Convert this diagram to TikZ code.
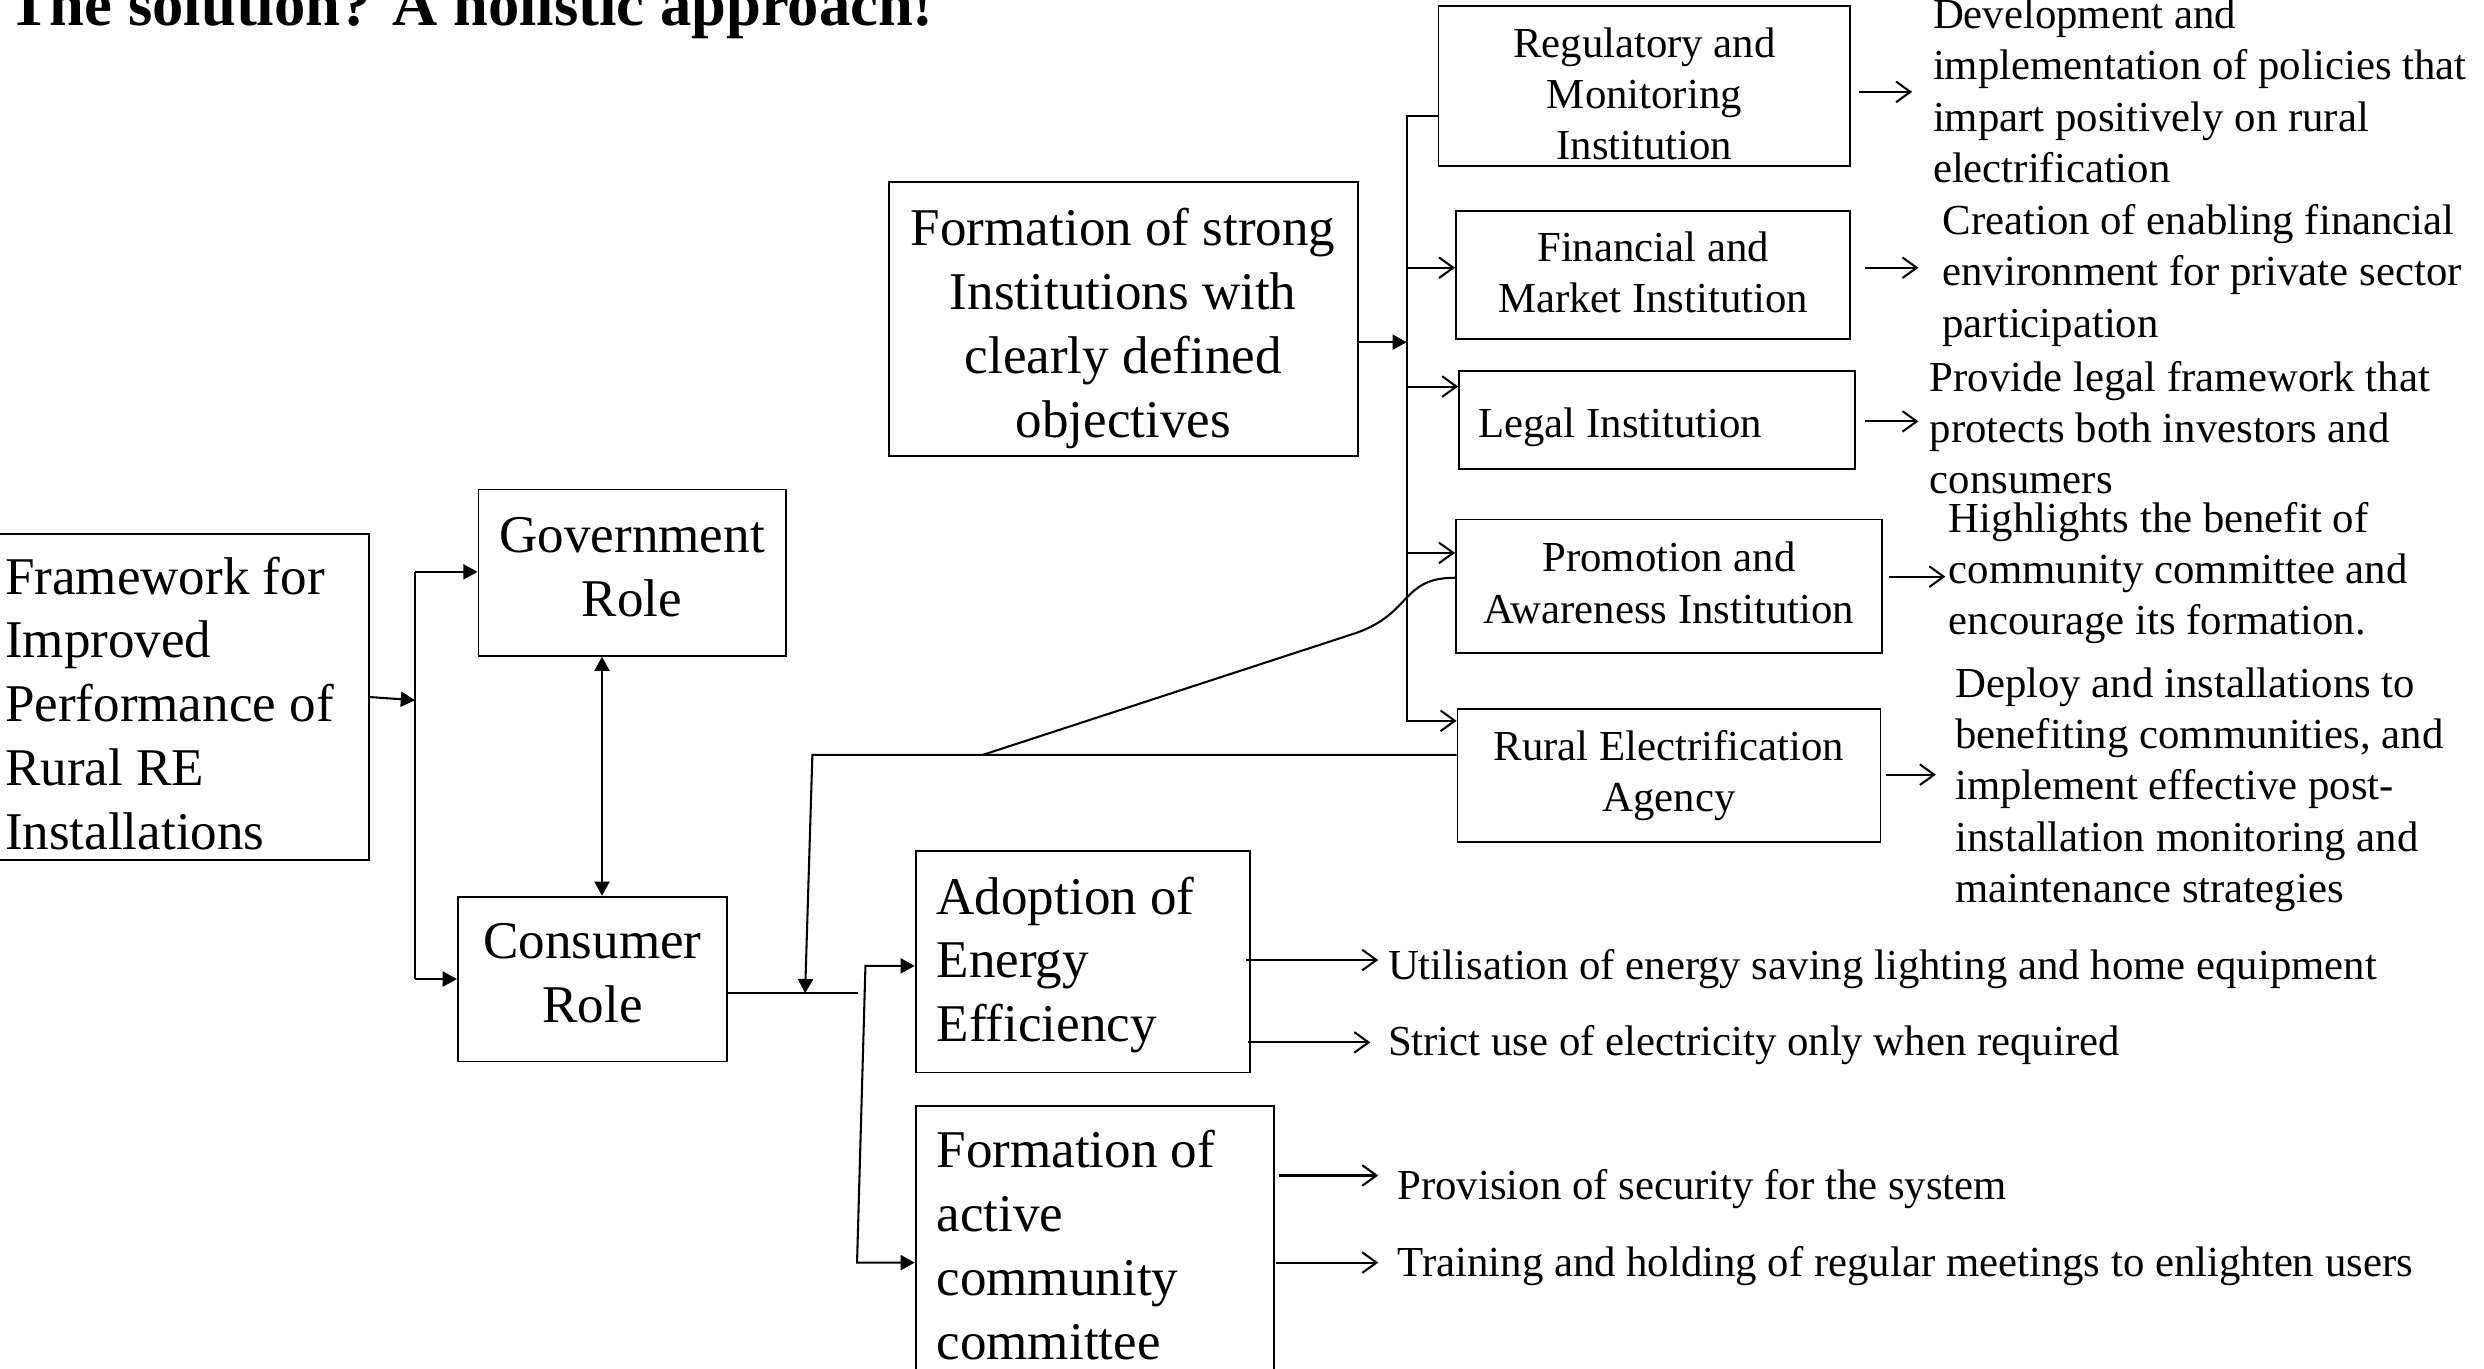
\documentclass[tikz,border=0pt]{standalone}
\usepackage{fontspec}
\setmainfont{Liberation Serif}
\usetikzlibrary{arrows.meta,calc}
\newcommand\linesL[1]{\begin{tabular}[t]{@{}l@{}}#1\end{tabular}}
\newcommand\linesC[1]{\begin{tabular}[t]{@{}c@{}}#1\end{tabular}}
\begin{document}
\begin{tikzpicture}[x=1pt,y=-1pt,
  box/.style={draw, line width=1.1pt, inner sep=0pt},
  big/.style={font=\fontsize{33.5}{40.3}\selectfont, inner sep=0pt},
  small/.style={font=\fontsize{27}{32.4}\selectfont, inner sep=0pt},
  conn/.style={line width=1.3pt},
  farrow/.style={conn, -{Triangle[length=9pt,width=9.5pt]}},
  farrowboth/.style={conn, {Triangle[length=9pt,width=9.5pt]}-{Triangle[length=9pt,width=9.5pt]}},
  oarrow/.style={conn, -{Straight Barb[length=9pt,width=13pt]}}]
\useasboundingbox[fill=white] (0,0) rectangle (1568,864);

% title
\node[font=\bfseries\fontsize{39.5}{45}\selectfont, inner sep=0pt, anchor=base west] (title) at (5,16) {The solution? A holistic approach!};

% boxes
\node[box, minimum width=234pt, minimum height=206pt] (fw) at (116,440) {};
\node[box, minimum width=194pt, minimum height=105pt] (gov) at (399,361.5) {};
\node[box, minimum width=170pt, minimum height=104pt] (con) at (374,618) {};
\node[box, minimum width=296pt, minimum height=173pt] (inst) at (709,201.5) {};
\node[box, minimum width=260pt, minimum height=101pt] (reg) at (1038,54.5) {};
\node[box, minimum width=249pt, minimum height=81pt] (fin) at (1043.5,173.5) {};
\node[box, minimum width=250pt, minimum height=62pt] (leg) at (1046,265) {};
\node[box, minimum width=269pt, minimum height=84pt] (pro) at (1053.5,370) {};
\node[box, minimum width=267pt, minimum height=84pt] (rea) at (1053.5,489.5) {};
\node[box, minimum width=211pt, minimum height=140pt] (ado) at (683.5,607) {};
\node[box, minimum width=226pt, minimum height=184pt] (fac) at (691,790) {};

% box texts
\node[big, anchor=base west] (fwt) at (3,375) {\linesL{Framework for\\Improved\\Performance of\\Rural RE\\Installations}};
\node[big, anchor=base] (govt) at (399,349) {\linesC{Government\\Role}};
\node[big, anchor=base] (cont) at (374,605) {\linesC{Consumer\\Role}};
\node[big, anchor=base] (instt) at (709,155) {\linesC{Formation of strong\\Institutions with\\clearly defined\\objectives}};
\node[small, anchor=base] (regt) at (1038,36) {\linesC{Regulatory and\\Monitoring\\Institution}};
\node[small, anchor=base] (fint) at (1043.5,165) {\linesC{Financial and\\Market Institution}};
\node[small, anchor=base west] (legt) at (933,276) {Legal Institution};
\node[small, anchor=base] (prot) at (1053.5,361) {\linesC{Promotion and\\Awareness Institution}};
\node[small, anchor=base] (reat) at (1053.5,480) {\linesC{Rural Electrification\\Agency}};
\node[big, anchor=base west] (adot) at (591,577) {\linesL{Adoption of\\Energy\\Efficiency}};
\node[big, anchor=base west] (fact) at (591,737) {\linesL{Formation of\\active\\community\\committee}};

% descriptions
\node[small, anchor=base west] (regd) at (1220,18) {\linesL{Development and\\implementation of policies that\\impart positively on rural\\electrification}};
\node[small, anchor=base west] (find) at (1226,148) {\linesL{Creation of enabling financial\\environment for private sector\\participation}};
\node[small, anchor=base west] (legd) at (1218,247) {\linesL{Provide legal framework that\\protects both investors and\\consumers}};
\node[small, anchor=base west] (prod) at (1230,336) {\linesL{Highlights the benefit of\\community committee and\\encourage its formation.}};
\node[small, anchor=base west] (read) at (1234,440) {\linesL{Deploy and installations to\\benefiting communities, and\\implement effective post-\\installation monitoring and\\maintenance strategies}};
\node[small, anchor=base west] (adod1) at (876,618) {Utilisation of energy saving lighting and home equipment};
\node[small, anchor=base west] (adod2) at (876,666) {Strict use of electricity only when required};
\node[small, anchor=base west] (facd1) at (882,757) {Provision of security for the system};
\node[small, anchor=base west] (facd2) at (882,806) {Training and holding of regular meetings to enlighten users};

% left part
\coordinate (gb) at (262,361);
\coordinate (cb) at (262,618);
\draw[farrow] (fw.east) -- (262,442);
\draw[conn] (gb) -- (cb);
\draw[farrow] (gb) -- (gov.west |- gb);
\draw[farrow] (cb) -- (con.west |- cb);
\draw[farrowboth] (gov.south -| 380,0) -- (con.north -| 380,0);

% institutions bus
\coordinate (ib) at (888,216);
\coordinate (bustop) at (888,73);
\coordinate (busbot) at (888,456);
\draw[farrow] (inst.east |- ib) -- (ib);
\draw[conn] (busbot) -- (bustop) -- (reg.west |- bustop);
\draw[oarrow] (888,169) -- (fin.west |- 0,169);
\draw[oarrow] (888,244) -- (leg.west |- 0,244);
\draw[oarrow] (888,349) -- (pro.west |- 0,349);
\draw[oarrow] (888,455) -- (rea.west |- 0,455);

% institution -> description arrows
\draw[oarrow] ($(reg.east |- 0,58)+(5,0)$) -- ($(regd.west |- 0,58)+(-13,0)$);
\draw[oarrow] ($(fin.east |- 0,169)+(9,0)$) -- ($(find.west |- 0,169)+(-15,0)$);
\draw[oarrow] ($(leg.east |- 0,266)+(6,0)$) -- ($(legd.west |- 0,266)+(-7,0)$);
\draw[oarrow] ($(pro.east |- 0,364)+(4,0)$) -- ($(prod.west |- 0,364)+(-2,0)$);
\draw[oarrow] ($(rea.east |- 0,489)+(3,0)$) -- ($(read.west |- 0,489)+(-12,0)$);

% consumer part
\coordinate (jn) at (508.2,627);
\coordinate (rj) at (512.8,476.5);
\coordinate (sj) at (620.4,476.5);
\draw[farrow] (rea.west |- rj) -- (rj) -- (jn);
\draw[conn] (pro.west |- 0,364.7) .. controls (884.6,364.7) and (891.5,386.8) .. (856.5,399.4) -- (sj);
\draw[conn] (con.east |- 0,627) -- (541.5,627);
\draw[conn, {Triangle[length=9pt,width=9.5pt]}-{Triangle[length=9pt,width=9.5pt]}] (ado.west |- 0,609.7) -- (546.3,609.7) -- (541,797) -- (fac.west |- 0,797);

% adoption / committee outputs
\draw[oarrow] ($(ado.east |- 0,606)+(-3,0)$) -- ($(adod1.west |- 0,606)+(-6,0)$);
\draw[oarrow] ($(ado.east |- 0,658)+(-2,0)$) -- ($(adod2.west |- 0,658)+(-11,0)$);
\draw[oarrow] ($(fac.east |- 0,742)+(3,0)$) -- ($(facd1.west |- 0,742)+(-12,0)$);
\draw[oarrow] ($(fac.east |- 0,797)+(1,0)$) -- ($(facd2.west |- 0,797)+(-12,0)$);
\end{tikzpicture}
\end{document}
